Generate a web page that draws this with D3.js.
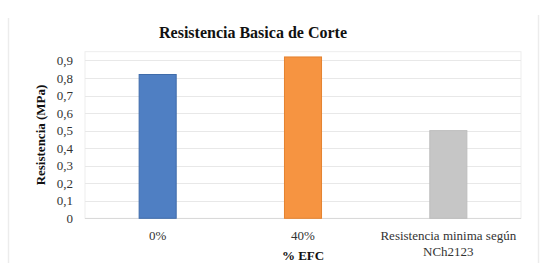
<!DOCTYPE html>
<html><head><meta charset="utf-8">
<script src="https://cdn.jsdelivr.net/npm/d3@7"></script>
<style>body{margin:0;background:#fff;}svg{display:block;}</style>
</head><body>
<svg id="c" width="550" height="272"></svg>
<script>
const categories = ["0%", "40%", "Resistencia minima según\nNCh2123"];
const values = [0.82, 0.92, 0.50];
const colors = ["#4F7FC3", "#F69441", "#C6C6C6"];
const strokes = ["#3F6CAA", "#E5822F", "#BDBDBD"];
const yTicks = [0, 0.1, 0.2, 0.3, 0.4, 0.5, 0.6, 0.7, 0.8, 0.9];
const yTickLabels = ["0", "0,1", "0,2", "0,3", "0,4", "0,5", "0,6", "0,7", "0,8", "0,9"];

const svg = d3.select("#c");
const font = "'Liberation Serif','Times New Roman',serif";
const m = {left: 85, right: 521, top: 51.7, bottom: 218.3};

// outer chart side edges (only vertical edges visible)
svg.append("line").attr("x1", 8.5).attr("x2", 8.5).attr("y1", 18).attr("y2", 263)
  .attr("stroke", "#ECECEC").attr("stroke-width", 1.5);
svg.append("line").attr("x1", 538.5).attr("x2", 538.5).attr("y1", 15).attr("y2", 263)
  .attr("stroke", "#ECECEC").attr("stroke-width", 1.5);

const x = d3.scaleBand().domain(categories).range([m.left, m.right]).paddingInner(0.745).paddingOuter(0.3725);
const y = d3.scaleLinear().domain([0, 0.95]).range([m.bottom, m.top]);

// plot area border
svg.append("rect").attr("x", m.left).attr("y", m.top).attr("width", m.right - m.left).attr("height", m.bottom - m.top)
  .attr("fill", "none").attr("stroke", "#EDEDED");

// gridlines
svg.append("g").selectAll("line").data(yTicks).join("line")
  .attr("x1", m.left).attr("x2", m.right)
  .attr("y1", d => Math.round(y(d)) + 0.5).attr("y2", d => Math.round(y(d)) + 0.5)
  .attr("stroke", d => d === 0 ? "#D9D9D9" : "#E8E8E8").attr("stroke-width", 1.2);

// y axis labels
const yAxis = d3.axisLeft(y).tickValues(yTicks).tickSize(0).tickPadding(12)
  .tickFormat((d, i) => yTickLabels[i]);
const ga = svg.append("g").attr("transform", `translate(${m.left},0)`).call(yAxis);
ga.select(".domain").remove();
ga.selectAll("text").attr("font-family", font).attr("font-size", 13).attr("fill", "#333");

// bars
svg.append("g").selectAll("rect").data(values).join("rect")
  .attr("x", (d, i) => x(categories[i])).attr("width", x.bandwidth())
  .attr("y", d => y(d)).attr("height", d => y(0) - y(d))
  .attr("fill", (d, i) => colors[i]).attr("stroke", (d, i) => strokes[i]).attr("stroke-width", 1);

// x labels
const xl = svg.append("g");
categories.forEach(c => {
  const lines = c.split("\n");
  const t = xl.append("text").attr("text-anchor", "middle").attr("font-family", font)
    .attr("font-size", 13).attr("fill", "#333")
    .attr("x", x(c) + x.bandwidth() / 2).attr("y", 240);
  lines.forEach((l, k) => t.append("tspan").attr("x", x(c) + x.bandwidth() / 2).attr("dy", k === 0 ? 0 : 16).text(l));
});

// title
svg.append("text").attr("x", 253).attr("y", 37.5).attr("text-anchor", "middle")
  .attr("font-family", font).attr("font-weight", "bold").attr("font-size", 16).attr("fill", "#111")
  .text("Resistencia Basica de Corte");

// x axis title
svg.append("text").attr("x", (m.left + m.right) / 2).attr("y", 260).attr("text-anchor", "middle")
  .attr("font-family", font).attr("font-weight", "bold").attr("font-size", 13).attr("fill", "#111")
  .text("% EFC");

// y axis title
svg.append("text").attr("transform", "translate(44.5,135) rotate(-90)").attr("text-anchor", "middle")
  .attr("font-family", font).attr("font-weight", "bold").attr("font-size", 13).attr("fill", "#111")
  .text("Resistencia (MPa)");
</script>
</body></html>
